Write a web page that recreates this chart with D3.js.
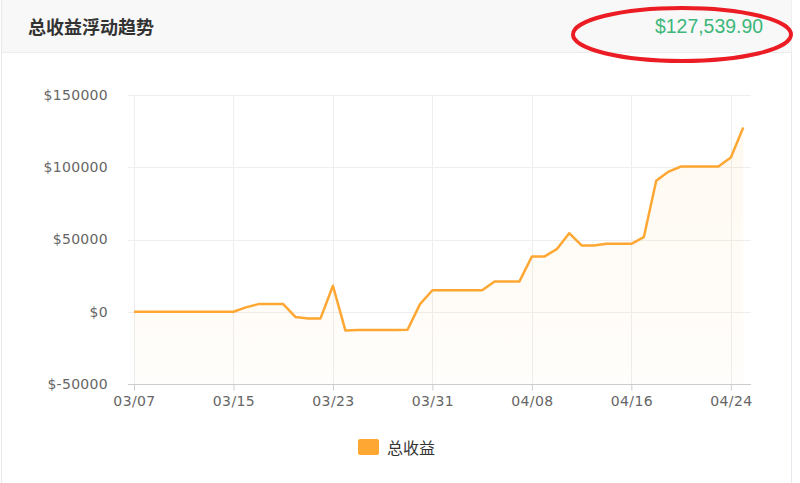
<!DOCTYPE html>
<html lang="zh">
<head>
<meta charset="utf-8">
<title>总收益浮动趋势</title>
<script src="https://d3js.org/d3.v7.min.js"></script>
<style>
  body { margin: 0; background: #fff; }
  svg { display: block; }
</style>
</head>
<body>
<svg id="chart"></svg>
<script>
var title = "总收益浮动趋势";
var seriesName = "总收益";
var totalLabel = "$127,539.90";

var days = ["03/07","03/08","03/09","03/10","03/11","03/12","03/13","03/14","03/15","03/16",
            "03/17","03/18","03/19","03/20","03/21","03/22","03/23","03/24","03/25","03/26",
            "03/27","03/28","03/29","03/30","03/31","04/01","04/02","04/03","04/04","04/05",
            "04/06","04/07","04/08","04/09","04/10","04/11","04/12","04/13","04/14","04/15",
            "04/16","04/17","04/18","04/19","04/20","04/21","04/22","04/23","04/24","04/25"];
var profit = [0,0,0,0,0,0,0,0,0,3000,
              5300,5300,5300,-3700,-4600,-4600,18000,-12900,-12700,-12700,
              -12600,-12600,-12500,5300,14900,14900,14900,14900,14900,21000,
              21000,21000,38200,38200,43300,54400,45900,45900,47000,47000,
              47000,51600,90600,97000,100500,100500,100500,100500,106700,127539.9];
var xTicks = ["03/07","03/15","03/23","03/31","04/08","04/16","04/24"];
var yTicks = [-50000,0,50000,100000,150000];

var width = 800, height = 483;
var plot = {left:134, right:750, top:95, bottom:384};

var parseDay = d3.timeParse("%Y/%m/%d");
var toDate = function(s){ return parseDay("2021/" + s); };
var data = days.map(function(d,i){ return {date: toDate(d), value: profit[i]}; });

var svg = d3.select("#chart").attr("width", width).attr("height", height);

// panel frame + header
svg.append("rect").attr("x",1.5).attr("y",0).attr("width",790).attr("height",height+2)
  .attr("fill","#fff").attr("stroke","#e8e8ee");
svg.append("rect").attr("x",2).attr("y",0).attr("width",789.5).attr("height",52)
  .attr("fill","#f8f8f8");
svg.append("line").attr("x1",2).attr("x2",791).attr("y1",52.5).attr("y2",52.5)
  .attr("stroke","#ececec");
svg.append("text").attr("x",28).attr("y",33.5).text(title)
  .attr("font-family","'Noto Sans CJK SC', sans-serif").attr("font-weight","bold")
  .attr("font-size","18px").attr("fill","#333");
svg.append("text").attr("x",655).attr("y",33).text(totalLabel)
  .attr("textLength",108).attr("lengthAdjust","spacingAndGlyphs")
  .attr("font-family","'Liberation Sans', sans-serif")
  .attr("font-size","20px").attr("fill","#3db77a");

var x = d3.scaleTime()
  .domain([toDate(days[0]), d3.timeHour.offset(toDate(days[days.length-1]), 13)])
  .range([plot.left, plot.right]);
var y = d3.scaleLinear().domain([-50000,150000]).range([plot.bottom, plot.top]);

// grid
svg.append("g").selectAll("line").data(yTicks.filter(function(d){ return d > -50000; }))
  .enter().append("line")
  .attr("x1",plot.left-6).attr("x2",plot.right+1)
  .attr("y1",function(d){ return Math.round(y(d))+0.5; })
  .attr("y2",function(d){ return Math.round(y(d))+0.5; })
  .attr("stroke","#eeeeee");
svg.append("g").selectAll("line").data(xTicks).enter().append("line")
  .attr("x1",function(d){ return Math.round(x(toDate(d)))+0.5; })
  .attr("x2",function(d){ return Math.round(x(toDate(d)))+0.5; })
  .attr("y1",plot.top).attr("y2",plot.bottom)
  .attr("stroke","#eeeeee");

// area + line
var grad = svg.append("defs").append("linearGradient").attr("id","fade")
  .attr("x1",0).attr("y1",0).attr("x2",0).attr("y2",1);
grad.append("stop").attr("offset","0%").attr("stop-color","#ffa733").attr("stop-opacity",0.07);
grad.append("stop").attr("offset","100%").attr("stop-color","#ffa733").attr("stop-opacity",0.02);

svg.append("path").datum(data)
  .attr("d", d3.area().x(function(d){ return x(d.date); }).y0(plot.bottom).y1(function(d){ return y(d.value); }))
  .attr("fill","url(#fade)");
svg.append("path").datum(data)
  .attr("d", d3.line().x(function(d){ return x(d.date); }).y(function(d){ return y(d.value); }))
  .attr("fill","none").attr("stroke","#ffa733").attr("stroke-width",2.5)
  .attr("stroke-linejoin","round");

// axes
var labelFont = "'DejaVu Sans', Verdana, sans-serif";
var xAxis = svg.append("g").attr("transform","translate(0,"+(plot.bottom+0.5)+")")
  .call(d3.axisBottom(x).tickValues(xTicks.map(toDate)).tickFormat(d3.timeFormat("%m/%d"))
    .tickSizeOuter(0).tickSize(6).tickPadding(6));
xAxis.select(".domain").attr("d","M"+(plot.left-6)+",0H"+(plot.right+1)).attr("stroke","#cccccc");
xAxis.selectAll(".tick line").attr("stroke","#cccccc");
xAxis.selectAll("text").attr("font-family",labelFont).attr("font-size","14px")
  .attr("fill","#666").attr("letter-spacing","0.4px");

var yAxis = svg.append("g").attr("transform","translate("+(plot.left-6)+",0)")
  .call(d3.axisLeft(y).tickValues(yTicks).tickFormat(function(d){ return "$" + d; })
    .tickSize(0).tickPadding(20));
yAxis.select(".domain").remove();
yAxis.selectAll("text").attr("font-family",labelFont).attr("font-size","14px")
  .attr("fill","#666").attr("letter-spacing","0.3px");

// legend
var legend = svg.append("g").attr("transform","translate(358,439)");
legend.append("rect").attr("width",21).attr("height",16).attr("rx",2).attr("fill","#ffa733");
legend.append("text").attr("x",29).attr("y",14.5).text(seriesName)
  .attr("font-family","'Noto Sans CJK SC', sans-serif").attr("font-size","16px").attr("fill","#333");

// red highlight ellipse
svg.append("ellipse").attr("cx",682).attr("cy",34.5).attr("rx",109).attr("ry",26.5)
  .attr("fill","none").attr("stroke","#ec1c24").attr("stroke-width",4);
</script>
</body>
</html>
